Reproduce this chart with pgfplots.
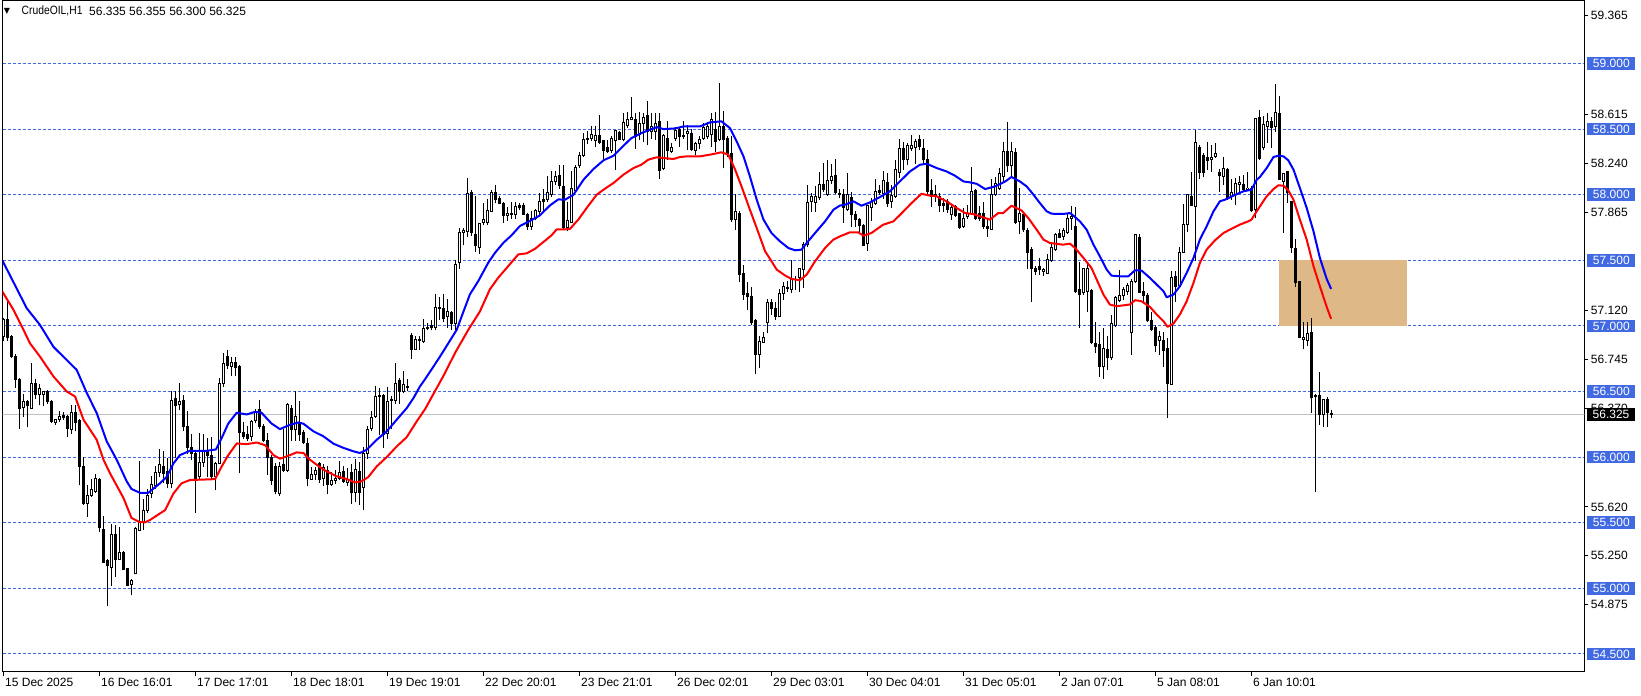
\documentclass[border=0pt]{standalone}
\usepackage{fontspec}
\setmainfont{Liberation Sans}
\newfontfamily\symfont{DejaVu Sans}
\usepackage{pgfplots}
\usepackage{pgfplotstable}
\pgfplotsset{compat=1.18}
\definecolor{mtblue}{RGB}{65,105,225}
\definecolor{zone}{RGB}{222,184,135}
\definecolor{bidgray}{RGB}{192,192,192}
\pgfplotstableread{
i O H L C
0 56.92 57.06 56.89 57.05
1 57.05 57.20 56.89 56.91
2 56.92 56.93 56.76 56.77
3 56.77 56.78 56.53 56.59
4 56.59 56.60 56.22 56.37
5 56.38 56.48 56.31 56.42
6 56.42 56.43 56.23 56.39
7 56.37 56.71 56.37 56.56
8 56.56 56.59 56.45 56.48
9 56.48 56.55 56.40 56.52
10 56.48 56.50 56.39 56.50
11 56.50 56.51 56.41 56.42
12 56.42 56.43 56.26 56.27
13 56.26 56.29 56.25 56.29
14 56.29 56.35 56.27 56.31
15 56.305 56.34 56.29 56.315
16 56.31 56.32 56.16 56.22
17 56.21 56.39 56.18 56.34
18 56.34 56.39 56.20 56.26
19 56.28 56.29 55.79 55.93
20 55.93 56.00 55.64 55.65
21 55.65 55.78 55.55 55.71
22 55.71 55.83 55.70 55.75
23 55.74 55.87 55.73 55.84
24 55.83 55.84 55.43 55.46
25 55.45 55.55 55.20 55.20
26 55.21 55.22 54.87 55.17
27 55.16 55.49 55.02 55.41
28 55.41 55.48 55.09 55.22
29 55.22 55.46 55.22 55.27
30 55.27 55.28 55.14 55.14
31 55.15 55.15 55.02 55.02
32 55.03 55.07 54.95 55.06
33 55.11 55.46 55.11 55.455
34 55.44 55.97 55.44 55.50
35 55.51 55.68 55.45 55.59
36 55.59 55.75 55.58 55.71
37 55.72 55.85 55.69 55.79
38 55.78 55.93 55.76 55.88
39 55.88 56.06 55.85 55.94
40 55.93 56.04 55.81 55.875
41 55.89 55.99 55.77 55.80
42 55.80 56.50 55.77 56.43
43 56.45 56.50 56.00 56.39
44 56.40 56.56 56.36 56.42
45 56.43 56.47 56.20 56.23
46 56.23 56.35 56.03 56.07
47 56.07 56.17 55.98 56.03
48 56.03 56.04 55.58 55.83
49 55.85 56.18 55.84 55.957
50 55.96 56.17 55.93 56.05
51 56.05 56.14 55.85 56.01
52 56.01 56.15 55.84 55.85
53 55.85 55.96 55.75 55.95
54 55.95 56.60 55.95 56.56
55 56.56 56.79 56.54 56.71
56 56.77 56.815 56.675 56.70
57 56.69 56.76 56.62 56.72
58 56.72 56.76 56.62 56.685
59 56.69 56.70 55.88 56.19
60 56.19 56.26 56.14 56.16
61 56.17 56.23 56.13 56.14
62 56.16 56.28 56.13 56.27
63 56.28 56.36 56.26 56.34
64 56.36 56.43 56.22 56.23
65 56.23 56.245 56.12 56.13
66 56.13 56.18 55.87 56.00
67 56.00 56.01 55.79 55.825
68 55.93 55.95 55.72 55.74
69 55.72 55.96 55.71 55.93
70 55.94 56.21 55.89 55.90
71 55.90 56.41 55.89 56.40
72 56.37 56.39 56.13 56.21
73 56.21 56.50 56.13 56.31
74 56.26 56.42 56.13 56.175
75 56.19 56.20 56.10 56.11
76 56.10 56.14 55.78 55.84
77 55.83 55.92 55.83 55.865
78 55.87 55.92 55.83 55.90
79 55.95 55.96 55.81 55.83
80 55.84 55.94 55.78 55.917
81 55.90 55.93 55.72 55.79
82 55.79 55.88 55.78 55.82
83 55.82 55.90 55.80 55.84
84 55.84 55.97 55.83 55.886
85 55.89 55.93 55.81 55.815
86 55.81 55.91 55.78 55.83
87 55.88 55.94 55.65 55.73
88 55.73 55.98 55.66 55.904
89 55.89 55.96 55.64 55.73
90 55.77 56.07 55.60 56.03
91 56.03 56.23 55.99 56.213
92 56.22 56.35 56.20 56.305
93 56.31 56.54 56.30 56.46
94 56.46 56.52 56.17 56.47
95 56.47 56.48 56.07 56.17
96 56.18 56.53 56.14 56.42
97 56.44 56.46 56.22 56.43
98 56.43 56.71 56.41 56.56
99 56.58 56.60 56.41 56.50
100 56.50 56.65 56.49 56.55
101 56.53 56.59 56.51 56.54
102 56.93 56.94 56.75 56.82
103 56.82 56.92 56.82 56.90
104 56.89 56.92 56.82 56.90
105 56.88 57.05 56.87 56.98
106 56.98 57.02 56.97 56.99
107 56.99 57.04 56.97 57.00
108 56.99 57.24 56.97 57.14
109 57.13 57.22 57.05 57.14
110 57.13 57.24 57.03 57.055
111 57.07 57.20 56.99 57.11
112 57.10 57.11 56.97 57.02
113 57.02 57.50 56.97 57.47
114 57.48 57.74 57.44 57.71
115 57.71 57.74 57.62 57.73
116 57.72 58.12 57.68 58.01
117 58.02 58.03 57.69 57.71
118 57.70 57.99 57.57 57.61
119 57.60 57.78 57.55 57.78
120 57.79 57.93 57.77 57.81
121 57.79 57.96 57.77 57.88
122 57.87 58.03 57.87 58.015
123 58.02 58.07 57.94 57.96
124 57.97 57.99 57.93 57.93
125 57.93 57.94 57.79 57.84
126 57.84 57.90 57.80 57.855
127 57.85 57.94 57.82 57.86
128 57.85 57.94 57.82 57.91
129 57.92 57.93 57.89 57.90
130 57.92 57.93 57.85 57.85
131 57.85 57.86 57.735 57.76
132 57.76 57.875 57.735 57.82
133 57.82 57.89 57.81 57.88
134 57.875 58.01 57.85 57.95
135 57.95 58.04 57.875 57.96
136 57.96 58.14 57.95 58.015
137 58.00 58.18 57.99 58.10
138 58.10 58.18 58.08 58.14
139 58.15 58.22 58.05 58.07
140 58.06 58.22 57.74 57.75
141 57.75 57.94 57.73 57.805
142 57.79 58.18 57.785 58.05
143 58.03 58.22 58.025 58.21
144 58.22 58.32 58.21 58.30
145 58.30 58.465 58.29 58.42
146 58.42 58.48 58.39 58.43
147 58.43 58.52 58.41 58.455
148 58.41 58.52 58.37 58.45
149 58.45 58.60 58.39 58.40
150 58.41 58.41 58.26 58.34
151 58.356 58.41 58.32 58.33
152 58.336 58.44 58.32 58.432
153 58.41 58.49 58.195 58.49
154 58.475 58.483 58.42 58.42
155 58.42 58.62 58.41 58.55
156 58.525 58.627 58.515 58.571
157 58.57 58.74 58.57 58.589
158 58.576 58.62 58.355 58.44
159 58.457 58.627 58.42 58.546
160 58.546 58.617 58.406 58.589
161 58.60 58.71 58.38 58.48
162 58.48 58.62 58.43 58.52
163 58.48 58.617 58.42 58.546
164 58.56 58.617 58.127 58.185
165 58.196 58.46 58.19 58.45
166 58.43 58.56 58.27 58.338
167 58.33 58.39 58.32 58.363
168 58.43 58.51 58.415 58.49
169 58.495 58.508 58.37 58.44
170 58.45 58.56 58.425 58.44
171 58.47 58.526 58.343 58.483
172 58.465 58.50 58.337 58.343
173 58.337 58.40 58.305 58.388
174 58.388 58.44 58.35 58.419
175 58.43 58.546 58.42 58.515
176 58.445 58.55 58.43 58.52
177 58.457 58.622 58.368 58.576
178 58.495 58.627 58.33 58.406
179 58.419 58.85 58.41 58.52
180 58.52 58.635 58.21 58.419
181 58.432 58.445 58.292 58.317
182 58.317 58.444 57.797 57.81
183 57.81 58.0 57.734 57.873
184 57.855 57.87 57.34 57.391
185 57.399 57.46 57.2 57.239
186 57.246 57.328 57.125 57.226
187 57.226 57.29 57.01 57.023
188 57.043 57.05 56.637 56.782
189 56.782 56.922 56.686 56.884
190 56.876 56.947 56.871 56.909
191 57.023 57.2 56.947 57.175
192 57.175 57.2 57.087 57.13
193 57.13 57.175 57.049 57.069
194 57.074 57.277 57.069 57.246
195 57.246 57.328 57.2 57.297
196 57.29 57.34 57.264 57.285
197 57.277 57.5 57.252 57.353
198 57.35 57.378 57.277 57.355
199 57.366 57.434 57.264 57.434
200 57.429 57.632 57.29 57.62
201 57.62 58.069 57.607 57.942
202 57.95 58.008 57.873 57.988
203 57.942 58.064 57.873 57.988
204 57.975 58.17 57.967 58.081
205 58.076 58.241 58.026 58.038
206 58.0 58.262 57.993 58.107
207 58.109 58.229 58.089 58.135
208 58.145 58.267 58.008 58.018
209 58.0 58.038 57.975 58.008
210 58.0 58.04 57.79 57.906
211 57.885 58.165 57.878 58.005
212 57.982 58.013 57.758 57.847
213 57.852 57.873 57.758 57.814
214 57.809 57.822 57.72 57.764
215 57.764 57.77 57.61 57.614
216 57.627 57.916 57.576 57.916
217 57.906 57.974 57.804 57.95
218 57.936 58.114 57.923 58.025
219 58.02 58.068 58.0 58.03
220 58.007 58.177 57.974 58.109
221 58.094 58.16 57.91 57.936
222 57.949 58.068 57.906 57.992
223 57.987 58.261 57.982 58.19
224 58.17 58.424 58.134 58.355
225 58.355 58.398 58.195 58.266
226 58.266 58.388 58.228 58.373
227 58.355 58.449 58.337 58.373
228 58.363 58.424 58.241 58.406
229 58.419 58.449 58.342 58.368
230 58.355 58.424 58.228 58.266
231 58.266 58.337 58.007 58.025
232 58.033 58.114 57.91 57.987
233 58.0 58.068 57.949 57.987
234 57.987 58.007 57.87 57.916
235 57.936 57.974 57.87 57.916
236 57.949 57.962 57.865 57.89
237 57.847 57.916 57.814 57.906
238 57.911 57.916 57.835 57.84
239 57.855 57.86 57.746 57.753
240 57.758 57.898 57.753 57.822
241 57.83 57.916 57.822 57.855
242 57.855 58.21 57.847 58.025
243 58.033 58.043 57.814 57.822
244 57.86 57.911 57.804 57.822
245 57.855 57.941 57.746 57.758
246 57.759 57.822 57.683 57.746
247 57.738 58.114 57.733 58.0
248 58.0 58.13 57.992 58.089
249 58.05 58.2 58.04 58.16
250 58.14 58.40 58.10 58.33
251 58.33 58.55 58.18 58.22
252 58.22 58.40 58.15 58.33
253 58.32 58.35 57.78 57.79
254 57.797 58.05 57.708 57.86
255 57.847 57.86 57.72 57.738
256 57.728 57.74 57.434 57.561
257 57.581 57.6 57.188 57.441
258 57.441 57.454 57.391 57.416
259 57.449 57.517 57.391 57.429
260 57.416 57.441 57.383 57.429
261 57.403 57.543 57.403 57.505
262 57.5 57.619 57.492 57.594
263 57.581 57.708 57.576 57.695
264 57.708 57.738 57.67 57.677
265 57.682 57.746 57.662 57.728
266 57.713 57.86 57.708 57.822
267 57.822 57.911 57.733 57.835
268 57.754 57.906 57.251 57.264
269 57.276 57.48 56.985 57.238
270 57.251 57.441 57.238 57.434
271 57.264 57.467 57.111 57.434
272 57.269 57.28 56.865 56.87
273 56.863 57.023 56.794 56.84
274 56.858 56.947 56.617 56.693
275 56.688 56.977 56.596 56.825
276 56.82 56.921 56.667 56.756
277 56.756 57.079 56.743 57.017
278 57.002 57.226 56.997 57.213
279 57.195 57.424 57.188 57.231
280 57.231 57.296 57.2 57.276
281 57.264 57.32 57.24 57.307
282 56.947 57.353 56.782 57.34
283 57.34 57.70 57.33 57.696
284 57.67 57.696 57.257 57.257
285 57.264 57.327 57.175 57.231
286 57.231 57.246 57.036 57.043
287 57.043 57.104 56.967 56.972
288 56.985 57.003 56.807 56.85
289 56.891 56.96 56.782 56.916
290 56.891 56.947 56.688 56.815
291 56.825 56.901 56.30 56.561
292 56.554 57.416 56.554 57.366
293 57.373 57.416 57.188 57.302
294 57.307 57.594 57.302 57.561
295 57.561 57.924 57.556 57.772
296 57.772 58.0 57.721 58.0
297 57.988 58.17 57.917 57.917
298 57.912 58.488 57.5 58.394
299 58.363 58.373 58.127 58.17
300 58.297 58.317 58.135 58.17
301 58.287 58.399 58.191 58.262
302 58.267 58.373 58.178 58.287
303 58.292 58.388 58.287 58.317
304 58.17 58.195 58.026 58.145
305 58.14 58.287 58.076 58.196
306 58.191 58.196 57.967 57.975
307 57.988 58.114 57.967 58.018
308 58.0 58.127 57.924 58.084
309 58.076 58.135 58.008 58.094
310 58.076 58.145 58.033 58.038
311 58.038 58.17 58.033 58.051
312 58.051 58.059 57.873 57.881
313 57.886 58.584 57.823 58.584
314 58.592 58.642 58.267 58.279
315 58.363 58.597 58.343 58.533
316 58.52 58.622 58.399 58.559
317 58.559 58.592 58.356 58.515
318 58.52 58.838 58.483 58.627
319 58.622 58.749 58.114 58.114
320 58.102 58.165 57.714 58.165
321 58.178 58.178 57.942 58.013
322 57.95 57.95 57.561 57.594
323 57.587 57.658 57.302 57.328
324 57.335 57.335 56.909 56.909
325 56.896 57.023 56.825 56.909
326 56.891 57.023 56.85 56.94
327 56.947 57.053 56.343 56.452
328 56.47 56.48 55.734 56.46
329 56.47 56.642 56.249 56.325
330 56.325 56.439 56.236 56.439
331 56.439 56.452 56.236 56.343
332 56.335 56.355 56.30 56.325
}\ohlc
\begin{document}
\begin{tikzpicture}[x=1pt,y=1pt]
\useasboundingbox (0,0) rectangle (1641,696);
\begin{axis}[
  at={(2.5pt,24.3pt)}, anchor=south west,
  scale only axis, width=1581.8pt, height=671.4pt,
  xmin=-0.25, xmax=395.2, ymin=54.3643, ymax=59.4817,
  axis line style={black, line width=1pt},
  tick style={black, line width=1pt},
  tick align=outside, major tick length=4pt,
  xtick pos=bottom, ytick pos=right,
  xticklabel pos=bottom, yticklabel pos=right,
  tick label style={font=\fontsize{12}{14}\selectfont},
  xtick={0,24,...,312},
  xticklabels={15 Dec 2025,16 Dec 16:01,17 Dec 17:01,18 Dec 18:01,19 Dec 19:01,22 Dec 20:01,23 Dec 21:01,26 Dec 02:01,29 Dec 03:01,30 Dec 04:01,31 Dec 05:01,2 Jan 07:01,5 Jan 08:01,6 Jan 10:01},
  xticklabel style={anchor=north west, inner sep=0pt, xshift=1.5pt, yshift=-2pt},
  ytick={54.875,55.25,55.62,56.37,56.745,57.12,57.865,58.24,58.615,59.365},
  yticklabels={54.875,55.250,55.620,56.370,56.745,57.120,57.865,58.240,58.615,59.365},
  yticklabel style={anchor=west, inner sep=0pt, xshift=2.5pt},
  extra y ticks={54.5,55,55.5,56,56.5,57,57.5,58,58.5,59},
  extra y tick labels={54.500,55.000,55.500,56.000,56.500,57.000,57.500,58.000,58.500,59.000},
  extra y tick style={grid=major,
    major grid style={mtblue, line width=1pt, dash pattern=on 3pt off 2pt},
    major tick style={draw=none},
    yticklabel style={fill=mtblue, text=white, minimum width=48.3pt, minimum height=12.5pt, inner sep=0pt, xshift=-3.8pt}},
]
% zone rectangle
\addplot[fill=zone, draw=none, forget plot] coordinates {(318.9,57.0) (350.9,57.0) (350.9,57.5) (318.9,57.5)};
% bid line
\addplot[bidgray, line width=1pt, forget plot] coordinates {(-1,56.325) (400,56.325)};
% wicks
\addplot[draw=none, mark=none, forget plot,
  error bars/.cd, y dir=plus, y explicit, error mark=none,
  error bar style={draw=black, line width=1pt}]
  table[x=i, y expr={\thisrow{L}-0.0038}, y error expr={\thisrow{H}-\thisrow{L}+0.0076}] {\ohlc};
% bodies (outline / bear fill)
\addplot[draw=none, mark=none, forget plot,
  error bars/.cd, y dir=plus, y explicit, error mark=none,
  error bar style={draw=black, line width=3pt}]
  table[x=i, y expr={min(\thisrow{O},\thisrow{C})-0.0038}, y error expr={abs(\thisrow{C}-\thisrow{O})+0.0076}] {\ohlc};
% bull interior
\addplot[draw=none, mark=none, forget plot,
  restrict expr to domain={\thisrow{C}-\thisrow{O}}{0.0115:10},
  error bars/.cd, y dir=plus, y explicit, error mark=none,
  error bar style={draw=white, line width=1pt}]
  table[x=i, y expr={\thisrow{O}+0.0038}, y error expr={\thisrow{C}-\thisrow{O}-0.0076}] {\ohlc};
% blue MA
\addplot[blue, line width=2pt, line join=round, mark=none] coordinates {
(-0.3,57.50) (5.8,57.135) (9.1,57.008) (12.5,56.84) (16.6,56.716) (18.3,56.665) (20.8,56.49) (23.3,56.336) (25.8,56.12) (28.3,55.98) (30.8,55.815) (32.0,55.757) (34.1,55.728) (36.2,55.728) (39.1,55.80) (40.8,55.85) (42.5,55.952) (44.1,56.015) (46.6,56.048) (50.8,56.048) (53.1,56.058) (54.5,56.142) (56.2,56.256) (58.3,56.338) (60.8,56.325) (62.9,56.345) (64.5,56.338) (67.0,56.256) (69.1,56.213) (71.6,56.246) (73.7,56.264) (75.0,56.254) (77.5,56.196) (80.0,56.158) (82.5,56.102) (85.0,56.07) (87.5,56.044) (89.1,56.031) (90.8,56.056) (93.3,56.132) (95.8,56.196) (98.3,56.285) (100.8,56.373) (102.5,56.45) (104.1,56.538) (105.4,56.594) (109.0,56.76) (113.3,56.97) (115.0,57.11) (116.6,57.24) (118.7,57.342) (121.2,57.482) (122.9,57.558) (125.0,57.634) (127.0,57.69) (129.1,57.761) (131.6,57.80) (134.1,57.842) (136.6,57.918) (138.7,57.964) (140.4,57.962) (142.5,58.0) (145.0,58.114) (147.5,58.196) (150.0,58.262) (152.5,58.297) (155.0,58.373) (157.0,58.432) (159.5,58.470) (161.6,58.495) (163.3,58.515) (165.0,58.50) (167.9,58.505) (170.0,58.52) (174.1,58.52) (176.6,58.551) (179.5,58.559) (181.6,58.508) (183.3,58.406) (185.0,58.292) (186.6,58.14) (188.3,57.962) (190.0,57.81) (192.0,57.708) (194.1,57.645) (196.2,57.594) (197.9,57.576) (199.5,57.581) (200.8,57.632) (202.9,57.708) (205.4,57.797) (207.5,57.886) (209.1,57.917) (210.4,57.924) (212.5,57.949) (214.5,57.916) (216.6,57.941) (219.1,57.982) (221.6,58.025) (223.7,58.089) (226.6,58.177) (229.1,58.228) (230.8,58.236) (233.3,58.203) (235.8,58.177) (237.9,58.144) (240.0,58.101) (241.6,58.094) (243.3,58.083) (245.4,58.043) (247.9,58.063) (250.4,58.100) (252.0,58.135) (254.1,58.101) (255.8,58.063) (257.5,58.0) (259.1,57.936) (260.8,57.873) (262.0,57.855) (264.9,57.853) (266.6,57.86) (267.5,57.84) (269.1,57.797) (270.8,57.733) (272.5,57.619) (274.1,57.53) (275.8,57.429) (277.0,57.383) (279.1,57.378) (281.2,57.378) (282.9,57.424) (284.5,57.422) (286.6,57.366) (288.3,57.315) (290.0,57.264) (290.8,57.218) (292.5,57.239) (294.1,57.302) (295.8,57.404) (297.5,57.518) (299.1,57.658) (300.8,57.76) (302.5,57.873) (304.1,57.95) (305.4,57.962) (307.5,57.993) (310.0,58.026) (312.0,58.038) (313.3,58.114) (314.1,58.135) (315.8,58.203) (317.5,58.287) (318.7,58.297) (320.0,58.292) (321.2,58.262) (322.5,58.191) (324.1,58.051) (325.8,57.899) (327.5,57.721) (329.1,57.518) (330.8,57.358) (331.9,57.282)
};
% red MA
\addplot[red, line width=2pt, line join=round, mark=none] coordinates {
(-0.3,57.262) (2.5,57.122) (5.0,56.97) (6.6,56.868) (9.1,56.767) (12.5,56.614) (15.8,56.50) (17.9,56.462) (20.0,56.285) (23.3,56.132) (25.0,55.98) (26.6,55.878) (30.0,55.688) (32.0,55.536) (34.0,55.505) (35.4,55.503) (36.6,55.52) (40.4,55.596) (42.5,55.723) (44.5,55.80) (46.6,55.825) (52.9,55.832) (54.5,55.926) (56.2,56.015) (58.3,56.104) (60.8,56.099) (63.3,56.111) (65.4,56.091) (67.5,56.015) (69.1,55.988) (71.2,56.010) (73.3,56.036) (75.0,56.031) (76.6,55.98) (80.0,55.904) (83.3,55.853) (85.8,55.833) (87.9,55.807) (89.5,55.815) (91.2,55.848) (93.3,55.929) (95.8,56.0) (98.3,56.081) (100.8,56.152) (103.3,56.272) (105.4,56.366) (110.0,56.62) (113.0,56.80) (116.2,56.97) (119.1,57.11) (121.6,57.279) (123.7,57.368) (126.2,57.456) (128.7,57.545) (130.8,57.553) (132.9,57.588) (135.0,57.64) (137.0,57.69) (138.3,57.736) (140.4,57.736) (141.6,57.739) (143.7,57.81) (145.8,57.899) (148.3,58.0) (150.0,58.038) (152.5,58.089) (155.0,58.153) (157.5,58.203) (159.5,58.229) (161.2,58.267) (163.3,58.285) (165.8,58.277) (167.5,58.272) (169.1,58.287) (170.8,58.292) (174.1,58.292) (176.6,58.305) (179.5,58.323) (181.2,58.305) (182.9,58.191) (184.5,58.064) (186.6,57.886) (188.3,57.746) (190.4,57.569) (192.0,57.493) (193.3,57.429) (195.4,57.384) (197.0,57.358) (199.1,57.348) (200.8,57.391) (202.9,57.493) (205.4,57.594) (207.5,57.658) (209.1,57.682) (211.6,57.713) (213.7,57.713) (215.0,57.687) (217.0,57.708) (219.9,57.771) (222.5,57.797) (225.0,57.873) (227.0,57.936) (229.5,58.007) (231.2,57.995) (233.3,57.987) (235.8,57.949) (238.3,57.898) (240.4,57.86) (242.5,57.852) (244.1,57.835) (246.6,57.81) (248.7,57.86) (249.9,57.86) (252.0,57.916) (254.5,57.88) (256.2,57.822) (258.3,57.733) (260.0,57.657) (261.6,57.632) (264.9,57.619) (266.6,57.627) (267.9,57.594) (270.0,57.518) (272.0,57.441) (273.3,57.353) (275.0,57.238) (276.6,57.162) (278.3,57.15) (281.6,57.163) (282.9,57.196) (284.5,57.188) (286.6,57.145) (288.3,57.087) (290.0,57.036) (291.0,56.993) (292.5,57.018) (294.1,57.087) (295.8,57.188) (297.5,57.328) (299.1,57.48) (300.8,57.582) (302.9,57.653) (305.0,57.708) (306.6,57.734) (309.1,57.772) (311.2,57.797) (312.0,57.81) (313.3,57.873) (314.1,57.911) (315.8,57.988) (317.5,58.043) (318.7,58.071) (320.0,58.069) (321.2,58.033) (322.5,57.962) (324.1,57.81) (325.8,57.658) (327.5,57.455) (329.1,57.302) (330.8,57.145) (331.9,57.054)
};
\coordinate (cur) at (axis cs:395.2,56.325);
\end{axis}
\node[anchor=west, fill=black, text=white, font=\fontsize{12}{14}\selectfont, minimum width=48.3pt, minimum height=12.5pt, inner sep=0pt] at ([xshift=2.4pt]cur) {56.325};
\node[inner sep=0pt, font=\symfont\fontsize{8}{8}\selectfont] at (7,685) {▼};
\node[anchor=west, inner sep=0pt, font=\fontsize{12}{14}\selectfont] at (21.5,685) {\scalebox{0.86}[1]{CrudeOIL,H1}};
\node[anchor=west, inner sep=0pt, font=\fontsize{12}{14}\selectfont] at (89,685) {56.335 56.355 56.300 56.325};
\end{tikzpicture}
\end{document}
